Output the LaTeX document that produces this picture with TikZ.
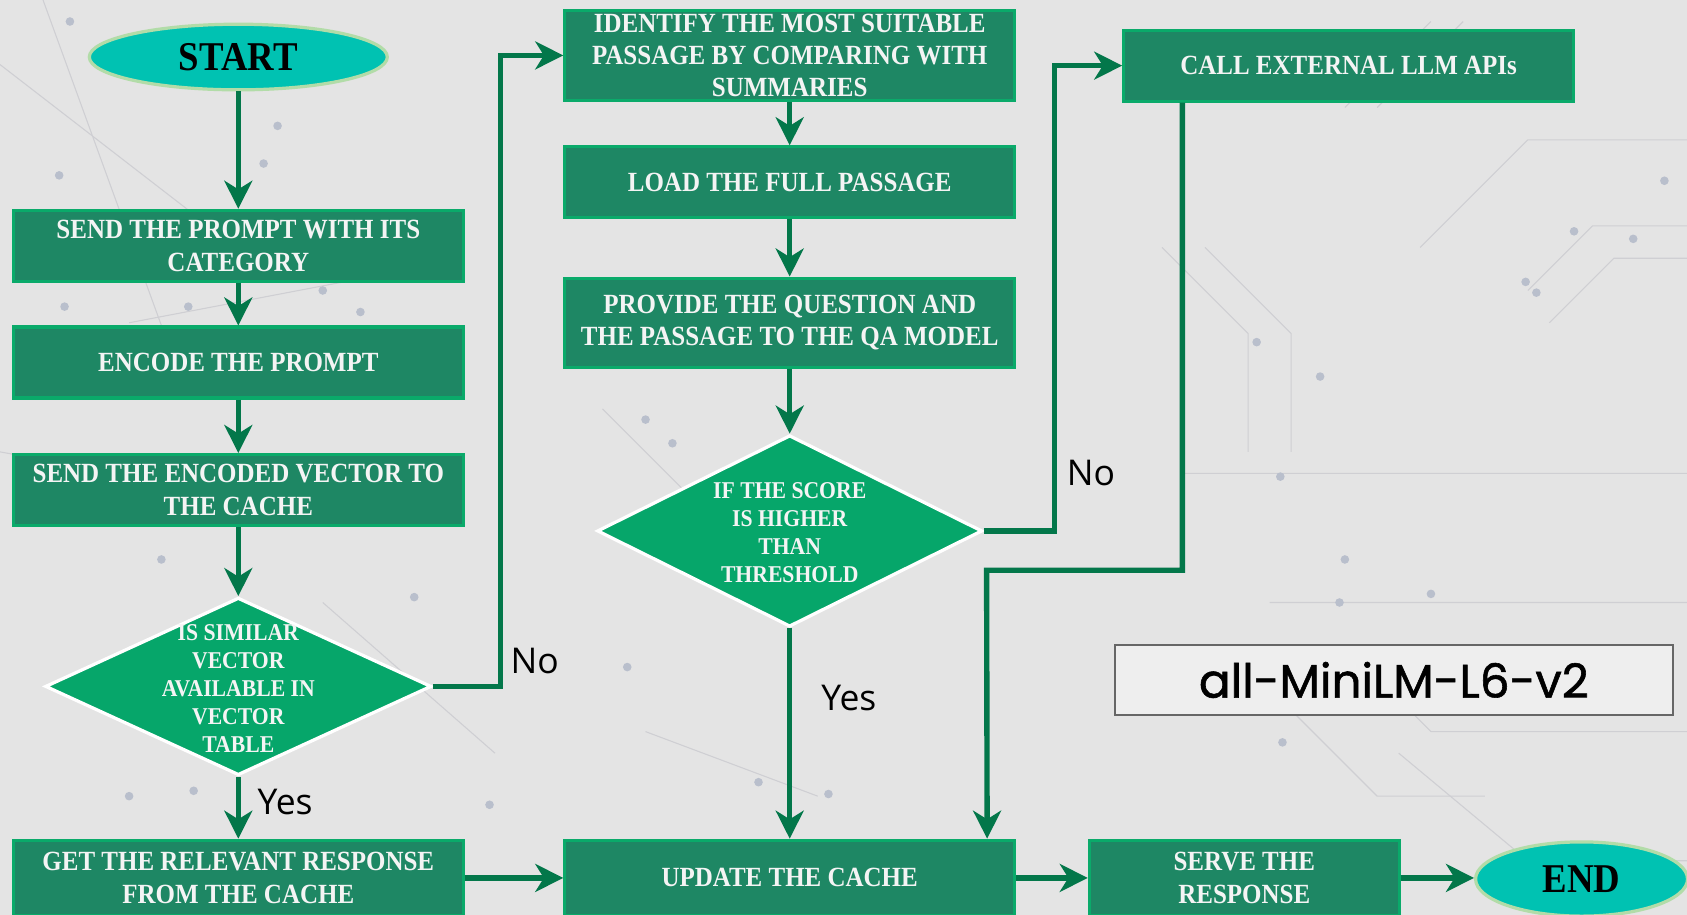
\documentclass[tikz,border=0pt]{standalone}
\usepackage{fontspec}
\setmainfont{Liberation Serif}
\newfontfamily\boxfont{Liberation Serif}[FakeStretch=0.9]
\newfontfamily\lblfont{Open Sans}
\newfontfamily\modelfont{Poppins}[FakeBold=1.2]
\usetikzlibrary{shapes.geometric,arrows.meta,calc}
\definecolor{bg}{HTML}{E4E4E4}
\definecolor{boxfill}{HTML}{1E8764}
\definecolor{boxline}{HTML}{0AAA6A}
\definecolor{diafill}{HTML}{06A66A}
\definecolor{ellfill}{HTML}{00C2B2}
\definecolor{ellline}{HTML}{B2DCA8}
\definecolor{arrcol}{HTML}{03774A}
\definecolor{modfill}{HTML}{EEEEEE}
\definecolor{modline}{HTML}{666666}
\definecolor{txtwhite}{HTML}{F4F4F4}
\definecolor{decoline}{HTML}{CFCFD3}
\definecolor{decodot}{HTML}{B9BFCC}
\begin{document}
\begin{tikzpicture}[x=0.5pt,y=-0.5pt,
  stepbox/.style={rectangle, fill=boxfill, draw=boxline, line width=1.5pt, inner sep=0pt,
    minimum width=209pt, minimum height=33pt, text=txtwhite, align=center,
    font=\boxfont\bfseries\fontsize{12.9}{15}\selectfont},
  dia/.style={diamond, fill=diafill, draw=white, line width=1.5pt, inner sep=0pt},
  diatext/.style={align=center, text=txtwhite, inner sep=0pt,
    font=\boxfont\bfseries\fontsize{11.2}{13}\selectfont},
  term/.style={ellipse, fill=ellfill, draw=ellline, line width=1.5pt, inner sep=0pt,
    text=black, font=\boxfont\bfseries\fontsize{19}{20}\selectfont},
  lbl/.style={inner sep=0pt, text=black, font=\lblfont\fontsize{16.5}{18}\selectfont},
  modbox/.style={rectangle, fill=modfill, draw=modline, line width=1pt, inner sep=0pt,
    minimum width=259.5pt, minimum height=32.5pt, text=black,
    font=\modelfont\fontsize{21.8}{24}\selectfont},
  arr/.style={draw=arrcol, line width=2.5pt, -{Stealth[length=13pt,width=13pt,inset=4pt]}},
  deco/.style={draw=decoline, line width=0.5pt},
  dot/.style={fill=decodot},
  ]
\useasboundingbox (0,0) rectangle (1568,850);
\clip (0,0) rectangle (1568,850);
\fill[bg] (0,0) rectangle (1568,850);

% faint background pattern
\draw[deco] (1080,230) -- (1160,310) -- (1160,420) (1120,230) -- (1200,310) -- (1200,420);
\draw[deco] (1250,100) -- (1330,20) (1280,100) -- (1360,20) (1320,230) -- (1420,130) -- (1568,130);
\draw[deco] (1420,270) -- (1480,210) -- (1568,210) (1440,300) -- (1500,240) -- (1568,240);
\draw[deco] (1100,440) -- (1568,440) (1180,560) -- (1568,560) (1300,700) -- (1420,800) -- (1568,800);
\draw[deco] (1180,640) -- (1280,740) -- (1380,740) (1250,600) -- (1330,680) -- (1568,680);
\draw[deco] (0,60) -- (220,230) (40,0) -- (160,330) (120,300) -- (330,260) (0,420) -- (330,480);
\draw[deco] (300,560) -- (460,700) (600,680) -- (760,740) (560,380) -- (700,520);
\foreach \p in {(65,20),(55,163),(60,285),(110,255),(175,285),(300,270),(258,117),(245,152),(335,290),(150,520),(385,555),(340,650),(120,740),(180,735),(455,748),(770,738),(705,727),(583,620),(600,390),(625,412),(590,485),(1190,443),(1250,520),(1418,262),(1428,272),(1227,350),(1168,318),(1192,690),(1245,560),(1330,552),(1463,215),(1518,222),(1547,168)}
  \fill[dot] \p circle (4);

% left column
\node[term, minimum width=138.5pt, minimum height=30.5pt] (start) at (221.5,53) {START};
\node[stepbox] (b1) at (221.5,228.5) {SEND THE PROMPT WITH ITS\\CATEGORY};
\node[stepbox] (b2) at (221.5,337) {ENCODE THE PROMPT};
\node[stepbox] (b3) at (221.5,455.5) {SEND THE ENCODED VECTOR TO\\THE CACHE};
\node[dia, minimum width=179.5pt, minimum height=82.5pt] (d1) at (221.5,638) {};
\node[diatext] (d1t) at (221.5,640) {IS SIMILAR\\VECTOR\\AVAILABLE IN\\VECTOR\\TABLE};
\node[stepbox, minimum height=35pt] (get) at (221.5,816) {GET THE RELEVANT RESPONSE\\FROM THE CACHE};

% middle column
\node[stepbox, minimum height=42pt] (ident) at (734,51.5) {IDENTIFY THE MOST SUITABLE\\PASSAGE BY COMPARING WITH\\SUMMARIES};
\node[stepbox] (load) at (734,169.5) {LOAD THE FULL PASSAGE};
\node[stepbox, minimum height=41.5pt] (prov) at (734,300) {PROVIDE THE QUESTION AND\\THE PASSAGE TO THE QA MODEL};
\node[dia, minimum width=179pt, minimum height=89pt] (d2) at (734,493.5) {};
\node[diatext] (d2t) at (734,495) {IF THE SCORE\\IS HIGHER\\THAN\\THRESHOLD};
\node[stepbox, minimum height=35pt] (upd) at (734,816) {UPDATE THE CACHE};

% right side
\node[stepbox] (call) at (1253.5,61) {CALL EXTERNAL LLM APIs};
\node[stepbox, minimum width=144pt, minimum height=35pt] (serve) at (1156.5,816) {SERVE THE\\RESPONSE};
\node[term, minimum width=98.5pt, minimum height=34.5pt] (end) at (1470,817) {END};
\node[modbox] (model) at (1295.5,632) {all-MiniLM-L6-v2};

% helper coordinates
\coordinate (nox1) at (465,0);
\coordinate (nox2) at (980,0);
\coordinate (bend) at (917,530);

% connectors
\draw[arr] (start.south) -- (b1.north);
\draw[arr] (b1.south) -- (b2.north);
\draw[arr] (b2.south) -- (b3.north);
\draw[arr] (b3.south) -- (d1.north);
\draw[arr] (d1.south) -- (get.north);
\draw[arr] (d1.east) -- (d1.east -| nox1) |- (ident.west);
\draw[arr] (ident.south) -- (load.north);
\draw[arr] (load.south) -- (prov.north);
\draw[arr] (prov.south) -- (d2.north);
\draw[arr] (d2.south) -- (upd.north);
\draw[arr] (d2.east) -- (d2.east -| nox2) |- (call.west);
\draw[arr] ([xshift=28pt]call.south west) |- (bend) -- ([xshift=-13.5pt]upd.north east);
\draw[arr] (get.east) -- (upd.west);
\draw[arr] (upd.east) -- (serve.west);
\draw[arr] (serve.east) -- (serve.east -| end.west);

% labels
\node[lbl] (no1) at (497,614) {No};
\node[lbl] (yes1) at (265,745) {Yes};
\node[lbl] (yes2) at (789,649) {Yes};
\node[lbl] (no2) at (1014,440) {No};
\end{tikzpicture}
\end{document}
